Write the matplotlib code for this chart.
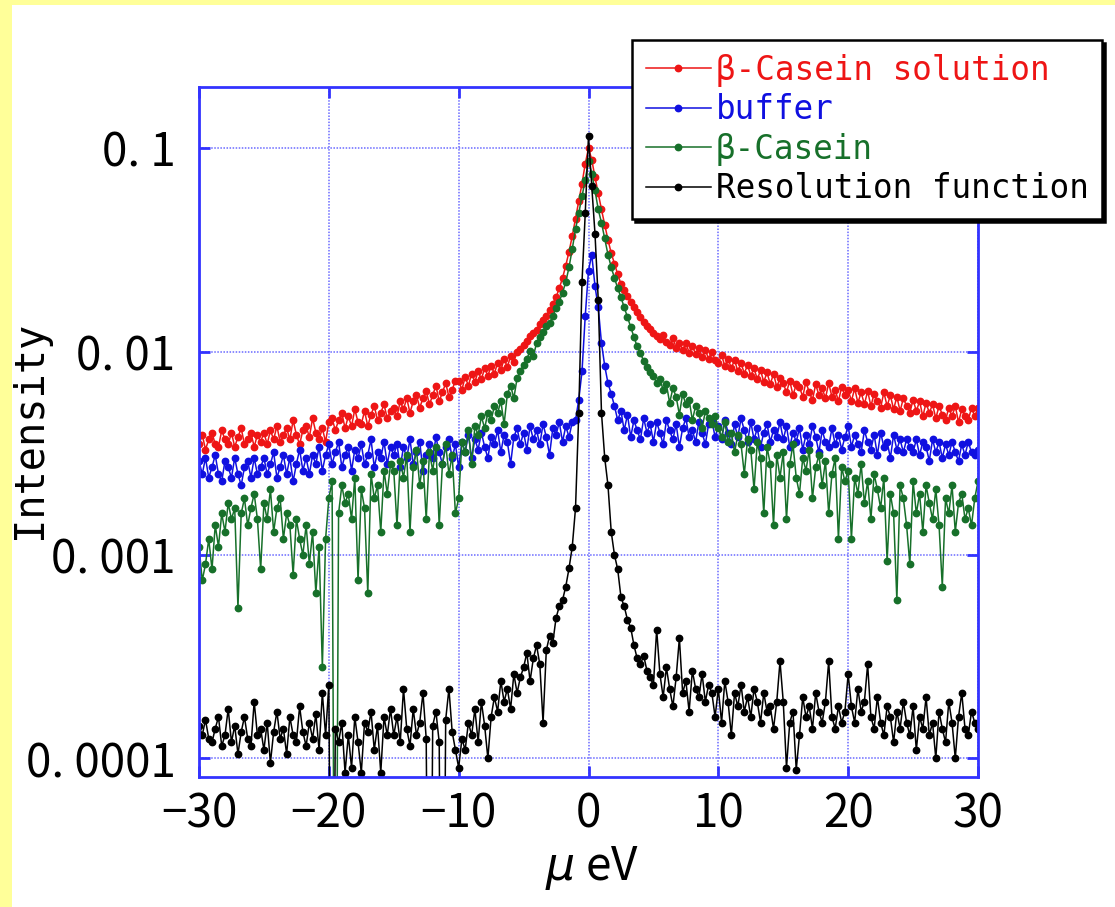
import numpy as np
import matplotlib
matplotlib.use("Agg")
import matplotlib.pyplot as plt
from matplotlib.patches import Rectangle
from matplotlib.ticker import FixedLocator, NullLocator

# energy transfer grid (ueV), 0.25 step
energy = np.linspace(-30, 30, 241)

# beta-Casein solution (x1e-3)
casein_solution = np.array([
    3.5, 3.9, 3.3, 3.7, 4.0, 3.5, 3.4, 4.1, 3.7, 3.5, 4.0, 3.4, 3.8, 4.2, 3.5, 3.7, 4.0, 3.4, 3.9, 3.6,
    4.0, 3.5, 4.1, 3.7, 4.3, 3.6, 3.9, 4.2, 3.7, 4.6, 3.9, 3.5, 4.1, 4.3, 3.8, 4.7, 4.0, 3.7, 4.2, 3.6,
    4.5, 4.7, 4.1, 4.6, 5.0, 4.2, 4.8, 4.3, 5.2, 4.5, 4.4, 5.1, 4.3, 4.9, 5.4, 4.6, 5.0, 5.5, 4.7, 5.1,
    5.3, 4.8, 5.7, 5.2, 5.9, 5.0, 5.7, 6.1, 5.3, 5.9, 6.4, 5.5, 6.1, 6.8, 5.7, 6.3, 7.0, 6.0, 6.5, 7.2,
    7.2, 6.5, 7.5, 6.8, 7.8, 7.1, 8.0, 7.3, 8.3, 7.6, 8.5, 7.8, 8.8, 8.1, 9.2, 8.4, 9.5, 8.9, 10.0, 10.3,
    10.8, 11.3, 11.9, 12.3, 12.8, 13.6, 14.3, 15.0, 16.0, 17.2, 18.5, 20.5, 23.0, 26.5, 31.0, 37.0, 45.0, 55.0, 67.0, 84.0,
    100.0, 88.0, 72.0, 60.0, 50.0, 42.0, 35.5, 30.5, 27.0, 24.0, 21.5, 20.0, 18.8, 17.6, 16.5, 15.6, 14.8, 14.0, 13.4, 12.9,
    12.4, 12.0, 11.5, 12.1, 11.1, 10.8, 11.7, 10.4, 11.0, 10.2, 11.0, 9.9, 10.7, 9.7, 10.4, 9.4, 10.2, 9.2, 10.0, 9.1,
    8.8, 9.6, 8.5, 9.2, 8.3, 9.1, 8.0, 8.8, 7.8, 8.6, 7.6, 8.3, 7.3, 8.1, 7.1, 7.9, 6.9, 7.8, 6.7, 7.4,
    7.0, 6.3, 7.2, 6.1, 6.9, 6.7, 6.0, 7.1, 6.3, 5.8, 6.9, 6.1, 6.6, 5.9, 7.0, 6.0, 6.5, 5.7, 6.7, 6.1,
    6.5, 5.7, 6.6, 5.6, 6.3, 5.5, 6.4, 5.4, 6.2, 5.7, 5.3, 6.3, 5.4, 6.1, 5.2, 6.0, 5.1, 5.9, 5.4, 5.0,
    5.8, 5.1, 5.7, 4.8, 5.6, 5.0, 5.5, 4.7, 5.4, 4.9, 4.6, 5.3, 4.8, 5.4, 4.5, 5.2, 4.8, 4.6, 5.3, 4.8,
    5.3]) * 1e-3

# buffer (x1e-3)
buffer = np.array([
    2.9, 2.5, 3.0, 2.4, 2.7, 3.1, 2.5, 2.3, 2.9, 2.7, 2.4, 3.0, 2.5, 2.2, 2.7, 2.9, 2.4, 3.0, 2.5, 2.7,
    3.0, 2.5, 2.8, 3.2, 2.4, 2.7, 3.1, 2.5, 3.0, 2.3, 2.8, 3.3, 2.6, 3.0, 2.5, 3.1, 2.8, 3.4, 2.6, 3.1,
    3.5, 2.8, 3.2, 3.6, 2.7, 3.1, 3.4, 2.6, 3.3, 3.0, 3.5, 2.8, 3.1, 3.7, 2.7, 3.2, 3.0, 3.6, 2.8, 3.4,
    3.1, 3.5, 2.7, 3.4, 3.0, 3.7, 2.8, 3.2, 3.6, 2.6, 3.1, 3.5, 3.0, 3.8, 3.2, 2.8, 3.4, 3.7, 3.0, 3.5,
    2.7, 3.6, 3.2, 3.9, 3.0, 3.7, 3.3, 4.0, 3.4, 3.0, 3.8, 3.5, 4.1, 3.2, 3.9, 3.6, 2.8, 3.8, 4.2, 3.5,
    4.0, 3.3, 4.3, 3.7, 4.1, 3.5, 4.4, 3.8, 3.1, 4.2, 3.9, 4.5, 3.6, 4.3, 3.8, 4.5, 4.6, 5.8, 8.0, 15.0,
    25.0, 30.0, 21.0, 16.5, 11.0, 8.5, 7.0, 6.2, 5.4, 4.6, 5.1, 4.1, 4.9, 3.8, 4.6, 4.1, 3.7, 4.7, 4.0, 4.4,
    3.6, 4.5, 4.0, 3.5, 4.6, 4.1, 3.7, 4.4, 3.4, 4.2, 4.7, 3.8, 4.1, 3.6, 4.5, 4.0, 3.5, 4.4, 4.6, 3.8,
    4.3, 3.7, 4.6, 4.0, 3.5, 4.4, 3.8, 4.7, 4.1, 3.6, 4.5, 3.7, 4.2, 3.4, 4.0, 4.4, 3.6, 4.1, 3.8, 4.5,
    3.7, 4.3, 3.4, 4.0, 3.6, 4.2, 3.3, 3.9, 3.5, 4.3, 3.8, 3.2, 4.1, 3.6, 3.4, 4.2, 3.5, 3.9, 3.3, 3.8,
    4.3, 3.4, 3.9, 3.5, 3.2, 4.1, 3.6, 3.3, 3.9, 3.1, 4.0, 3.4, 3.6, 3.0, 3.9, 3.3, 3.7, 3.2, 3.7, 3.4,
    3.2, 3.7, 3.1, 3.6, 3.4, 2.9, 3.7, 3.2, 3.6, 3.0, 3.5, 3.1, 3.6, 3.2, 2.9, 3.5, 3.1, 3.6, 3.2, 3.1,
    3.3]) * 1e-3

# beta-Casein (x1e-3)
casein = np.array([
    1.1, 0.75, 0.9, 1.2, 0.85, 1.4, 1.1, 1.6, 1.3, 1.8, 1.5, 1.7, 0.55, 1.6, 1.9, 1.4, 1.7, 2.0, 1.5, 0.85,
    1.8, 1.5, 2.1, 1.3, 1.7, 1.9, 1.2, 1.6, 1.4, 0.8, 1.5, 1.2, 1.0, 1.4, 0.9, 1.3, 0.65, 1.1, 0.28, 1.2,
    1.9, 2.3, 0.001, 1.6, 2.2, 1.8, 2.0, 1.5, 2.4, 0.75, 2.1, 1.7, 0.65, 2.5, 1.9, 2.2, 1.3, 2.6, 2.0, 2.8,
    2.6, 1.4, 2.9, 2.4, 3.1, 1.3, 2.7, 3.3, 2.2, 2.9, 1.5, 3.2, 2.6, 3.4, 1.4, 2.8, 3.5, 2.5, 3.1, 1.6,
    1.9, 3.6, 3.2, 4.1, 2.8, 4.3, 3.9, 4.8, 4.2, 5.0, 4.6, 5.4, 5.0, 5.7, 4.4, 6.2, 6.8, 5.9, 7.4, 8.0,
    8.6, 9.2, 10.1, 9.5, 11.0, 11.8, 12.5, 13.4, 13.8, 15.0, 16.3, 17.6, 19.5, 22.0, 26.0, 32.0, 40.0, 48.0, 58.0, 70.0,
    87.0, 75.0, 62.0, 50.0, 43.0, 36.0, 30.0, 26.0, 23.0, 20.5, 18.5, 16.5, 14.8, 13.2, 11.8, 10.6, 9.8, 9.0, 8.4, 7.9,
    7.6, 7.0, 7.3, 6.5, 6.9, 5.6, 6.6, 6.0, 4.9, 6.2, 5.5, 5.8, 4.6, 5.4, 5.0, 4.2, 5.1, 4.7, 4.4, 4.8,
    4.2, 3.8, 4.5, 3.6, 4.0, 3.2, 3.9, 3.5, 2.5, 3.7, 3.3, 2.1, 3.6, 3.0, 1.6, 3.4, 2.8, 1.4, 3.1, 2.4,
    3.2, 1.5, 2.8, 3.5, 2.4, 2.0, 3.0, 2.6, 3.3, 1.9, 2.7, 3.1, 2.2, 2.9, 1.6, 2.5, 3.0, 1.2, 2.7, 2.3,
    2.6, 1.2, 2.4, 2.0, 2.8, 1.8, 2.3, 1.5, 2.5, 2.1, 1.7, 2.4, 0.93, 2.0, 1.6, 0.6, 2.2, 1.9, 1.4, 0.9,
    2.3, 1.6, 2.0, 1.3, 2.2, 1.8, 1.5, 2.1, 1.4, 0.7, 1.9, 1.6, 2.2, 1.3, 1.8, 2.0, 1.5, 1.7, 1.4, 1.9,
    2.3]) * 1e-3

# resolution function (x1e-4)
resolution = np.array([
    1.45, 1.3, 1.55, 1.25, 1.2, 1.4, 1.6, 1.15, 1.3, 1.75, 1.2, 1.45, 1.05, 1.35, 1.6, 1.25, 1.15, 1.9, 1.3, 1.4,
    1.1, 1.5, 0.95, 1.35, 1.7, 1.25, 1.4, 1.05, 1.6, 1.3, 1.2, 1.8, 1.35, 1.15, 1.5, 1.25, 1.65, 1.1, 2.1, 1.3,
    2.3, 0.01, 1.4, 1.2, 1.5, 0.85, 1.3, 0.9, 1.6, 1.2, 0.85, 1.5, 1.35, 1.7, 1.1, 1.45, 0.85, 1.6, 1.3, 1.75,
    1.3, 1.6, 1.2, 2.2, 1.4, 1.15, 1.75, 1.3, 1.5, 2.1, 1.25, 0.01, 1.45, 1.7, 1.2, 0.01, 1.55, 2.2, 1.35, 1.1,
    0.9, 1.25, 1.1, 1.5, 1.3, 1.75, 1.2, 1.9, 1.45, 1.0, 1.6, 2.0, 1.7, 2.4, 1.9, 2.2, 1.75, 2.6, 2.1, 2.5,
    2.8, 3.3, 2.4, 3.1, 3.6, 2.9, 1.5, 3.4, 4.0, 3.7, 4.9, 5.6, 6.0, 7.0, 8.6, 11.0, 17.0, 50.0, 220.0, 480.0,
    1150.0, 650.0, 380.0, 180.0, 50.0, 30.0, 22.0, 13.0, 10.0, 8.5, 6.2, 5.6, 4.8, 4.4, 3.6, 3.1, 2.9, 3.2, 2.7, 2.5,
    2.3, 4.3, 2.6, 2.0, 2.8, 2.2, 1.8, 2.5, 3.9, 2.1, 2.4, 1.7, 2.7, 2.2, 2.0, 2.6, 1.9, 2.3, 2.1, 1.6,
    2.2, 1.5, 2.4, 1.9, 1.3, 2.1, 1.8, 2.3, 1.7, 2.0, 1.6, 2.2, 1.9, 1.5, 2.1, 1.7, 1.8, 1.4, 1.9, 3.0,
    1.9, 0.9, 1.5, 1.7, 0.88, 1.3, 2.0, 1.6, 1.8, 1.4, 2.1, 1.7, 1.5, 1.9, 3.0, 1.6, 1.4, 1.8, 1.5, 1.7,
    2.6, 1.8, 1.5, 2.2, 1.7, 1.9, 2.9, 1.6, 1.4, 2.0, 1.5, 1.3, 1.8, 1.6, 1.2, 1.7, 1.4, 1.9, 1.5, 1.3,
    1.8, 1.1, 1.6, 1.4, 2.0, 1.3, 1.5, 1.0, 1.7, 1.4, 1.2, 1.9, 1.5, 1.0, 1.6, 2.1, 1.4, 1.3, 1.7, 1.5,
    1.4]) * 1e-4

labels = ["\u03b2-Casein solution", "buffer", "\u03b2-Casein", "Resolution function"]
colors = ["#ee1515", "#1010e0", "#17702a", "#000000"]
xticks = [-30, -20, -10, 0, 10, 20, 30]
xtick_labels = ["\u221230", "\u221220", "\u221210", "0", "10", "20", "30"]
yticks = [1e-4, 1e-3, 1e-2, 1e-1]
ytick_labels = ["0. 0001", "0. 001", "0. 01", "0. 1"]

frame_blue = "#3333ff"
grid_blue = "#6a6aff"

fig = plt.figure(figsize=(11.15, 9.07), dpi=100)
fig.patch.set_facecolor("#ffff99")
# white panel behind everything except the yellow strips on the left and top
fig.patches.append(Rectangle((12 / 1115, 0), 1, 1 - 5 / 907, transform=fig.transFigure,
                             facecolor="white", edgecolor="none", zorder=-10))

ax = fig.add_axes([199 / 1115, 130 / 907, 779 / 1115, 690 / 907])
ax.set_facecolor("white")
series = [casein_solution, buffer, casein, resolution]
for y, lab, c in zip(series, labels, colors):
    ax.plot(energy, y, "-o", color=c, lw=1.1, ms=4.6, label=lab)

ax.set_yscale("log")
ax.set_xlim(-30, 30)
ax.set_ylim(8.1e-5, 0.2)

ax.xaxis.set_major_locator(FixedLocator(xticks))
ax.set_xticklabels(xtick_labels)
ax.yaxis.set_major_locator(FixedLocator(yticks))
ax.yaxis.set_minor_locator(NullLocator())
ax.set_yticklabels(ytick_labels)

for t in ax.get_xticklabels() + ax.get_yticklabels():
    t.set_fontfamily("Noto Sans CJK JP")
    t.set_fontsize(33)

ax.tick_params(axis="both", which="major", direction="in", length=8, width=2,
               color=frame_blue, top=True, right=True)
ax.tick_params(axis="x", pad=9)
ax.tick_params(axis="y", pad=17)
for sp in ax.spines.values():
    sp.set_color(frame_blue)
    sp.set_linewidth(2)
ax.grid(True, which="major", color=grid_blue, linestyle=(0, (1, 1)), linewidth=1.1)
ax.set_axisbelow(True)

fig.text(30 / 1115, 1 - 430 / 907, "Intensity", rotation=90, ha="center", va="center",
         family="DejaVu Sans Mono", fontsize=29)
fig.text(592 / 1115, 1 - 868 / 907, r"$\mu$ eV", ha="center", va="center",
         family="Noto Sans CJK JP", fontsize=33)

leg = ax.legend(loc="upper left", bbox_to_anchor=(632 / 1115, 1 - 40 / 907),
                bbox_transform=fig.transFigure, borderaxespad=0,
                prop=dict(family="DejaVu Sans Mono", size=23.5),
                handlelength=2.0, handletextpad=0.15, labelspacing=0.2,
                borderpad=0.42, fancybox=False, framealpha=1,
                shadow={"color": "black", "alpha": 1})
leg.get_frame().set_edgecolor("black")
leg.get_frame().set_linewidth(1.8)
for txt, c in zip(leg.get_texts(), colors):
    txt.set_color(c)

fig.savefig("out.png", dpi=100, facecolor=fig.get_facecolor())
